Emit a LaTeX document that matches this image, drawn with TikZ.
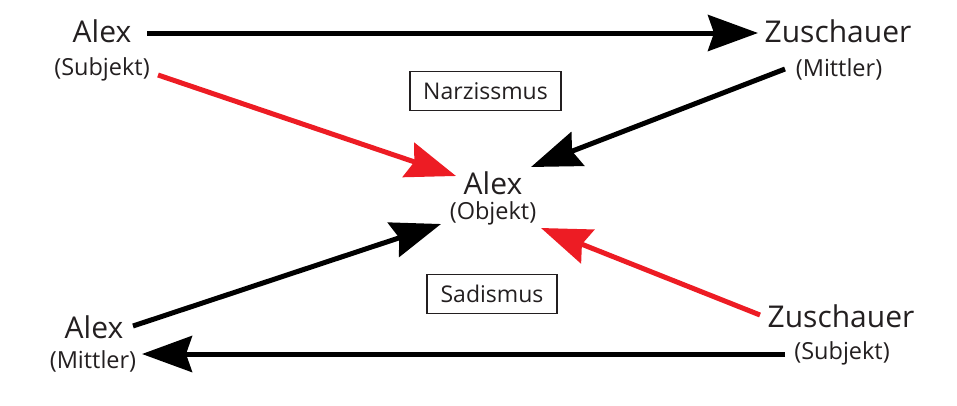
\documentclass[tikz,border=0pt]{standalone}
\usepackage{fontspec}
\setmainfont{Open Sans}
\usetikzlibrary{arrows.meta}
\definecolor{ink}{RGB}{35,31,32}
\definecolor{rd}{RGB}{237,28,36}
\tikzset{
  big/.style={inner sep=0pt, text=ink, font=\fontsize{30}{32}\selectfont},
  small/.style={inner sep=0pt, text=ink, font=\fontsize{23.5}{26}\selectfont},
  boxed/.style={draw=ink, line width=1.8pt, minimum height=39pt, inner sep=0pt, text=ink, font=\fontsize{23}{26}\selectfont},
  arr/.style={line width=5pt, -{Stealth[length=50pt,width=36pt,inset=6pt]}},
  blk/.style={arr, draw=black},
  red/.style={arr, draw=rd},
}
\begin{document}
\begin{tikzpicture}[x=1pt,y=-1pt]
\useasboundingbox (0,0) rectangle (957,405);
% labels
\node[big]   (a1)  at (102,31)  {Alex};
\node[small] (a1s) at (102,69)  {(Subjekt)};
\node[big]   (z1)  at (838,31)  {Zuschauer};
\node[small] (z1s) at (839,69)  {(Mittler)};
\node[big]   (c)   at (493,183) {Alex};
\node[small] (cs)  at (493,213) {(Objekt)};
\node[big]   (a2)  at (94,327)  {Alex};
\node[small] (a2s) at (93,361)  {(Mittler)};
\node[big]   (z2)  at (841,316) {Zuschauer};
\node[small] (z2s) at (842,353) {(Subjekt)};
\node[boxed, minimum width=151pt] (nar) at (485.5,91) {Narzissmus};
\node[boxed, minimum width=130pt] (sad) at (492,294) {Sadismus};
% connector ends
\coordinate (p1) at (147,33);  \coordinate (q1) at (758,33);
\coordinate (p2) at (158,75);  \coordinate (q2) at (456,176);
\coordinate (p3) at (785,69);  \coordinate (q3) at (531,167);
\coordinate (p4) at (133,326); \coordinate (q4) at (441,224);
\coordinate (p5) at (760,315); \coordinate (q5) at (541,228);
\coordinate (p6) at (785,354); \coordinate (q6) at (142,354);
\draw[blk] (p1) -- (q1);
\draw[red] (p2) -- (q2);
\draw[blk] (p3) -- (q3);
\draw[blk] (p4) -- (q4);
\draw[red] (p5) -- (q5);
\draw[blk] (p6) -- (q6);
\end{tikzpicture}
\end{document}
